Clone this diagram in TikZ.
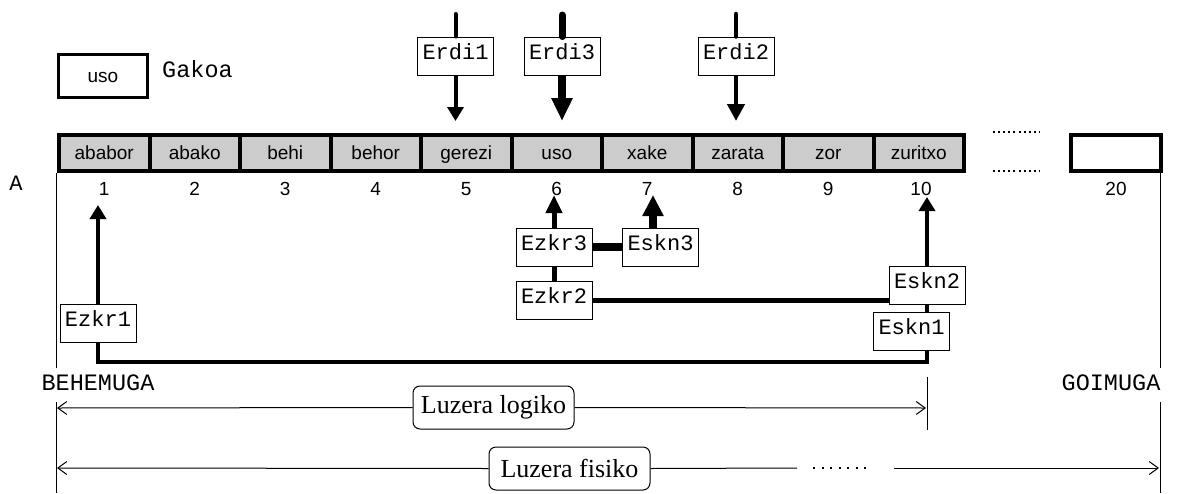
\documentclass[tikz,border=0pt]{standalone}
\usepackage{fontspec}
\setmainfont{Liberation Serif}
\newfontfamily\sansf{Liberation Sans}
\newfontfamily\monof{Liberation Mono}
\usetikzlibrary{arrows.meta}

\begin{document}
\begin{tikzpicture}[x=1pt,y=-1pt,
  cellbox/.style={draw, line width=4pt, fill=black!20, minimum width=90.5pt,
    minimum height=36pt, inner sep=0pt, outer sep=0pt,
    font=\sansf\fontsize{19}{19}\selectfont, text height=12pt, text depth=0pt},
  keybox/.style={cellbox, line width=3.3pt, fill=white, minimum width=89pt, minimum height=43pt},
  idx/.style={anchor=base, inner sep=0pt, font=\sansf\fontsize{19}{19}\selectfont},
  ptr/.style={draw, line width=1pt, fill=white, minimum width=76pt, minimum height=38pt,
    inner sep=0pt, font=\monof\fontsize{22}{22}\selectfont, text height=13pt, text depth=6pt},
  mono/.style={inner sep=0pt, font=\monof\fontsize{22}{22}\selectfont},
  bigmono/.style={inner sep=0pt, font=\monof\fontsize{23.5}{23.5}\selectfont},
  lenbox/.style={draw, line width=1pt, rounded corners=7pt, fill=white, minimum width=161pt,
    minimum height=43pt, inner sep=0pt, font=\fontsize{26}{26}\selectfont},
  thinline/.style={line width=1pt},
  dimarrow/.style={line width=1pt, -{Straight Barb[length=9pt,width=13pt]}},
  ptrA/.style={line width=4pt, -{Triangle[width=16pt,length=14pt]}},
  ptrB/.style={line width=5pt, -{Triangle[width=16pt,length=18pt]}},
  ptrC/.style={line width=8pt, -{Triangle[width=20pt,length=21pt]}},
  dotrow/.style={line width=2.5pt, dash pattern=on 2pt off 3.1pt},
]
\useasboundingbox (0,0) rectangle (1178,493);

% key
\node[keybox] (key) at (103,76) {uso};
\node[bigmono, anchor=base west] (gakoa) at (162,77) {Gakoa};

% array cells and indices
\foreach \i/\w in {1/ababor,2/abako,3/behi,4/behor,5/gerezi,6/uso,7/xake,8/zarata,9/zor,10/zuritxo}{
  \node[cellbox] (c\i) at ({59+90.5*(\i-0.5)},153) {\w};
}
\foreach \i in {1,...,9}{
  \node[idx] (n\i) at ({59+90.5*(\i-0.5)},195) {\i};
}
\node[idx] (n10) at (921,195) {10};
\node[cellbox, fill=white, minimum width=90pt] (c20) at (1116,153) {};
\node[idx] (n20) at (1116,195) {20};
\node[mono, anchor=base] (arrA) at (16,190) {A};

% gap between cell 10 and cell 20
\draw[dotrow] (993,132) -- (1040,132);
\draw[dotrow] (993,171) -- (1040,171);

% middle pointers
\node[ptr] (e1) at (455.5,56) {Erdi1};
\node[ptr] (e3) at (562,56) {Erdi3};
\node[ptr] (e2) at (736,56) {Erdi2};
\coordinate (e1top) at (455.5,14);
\coordinate (e3top) at (562,15);
\coordinate (e2top) at (736,14);
\coordinate (e1tip) at (455.5,121);
\coordinate (e3tip) at (562,121);
\coordinate (e2tip) at (736,121);
\draw[line width=4pt, line cap=round] (e1top) -- (e1);
\draw[line width=7pt, line cap=round] (e3top) -- (e3);
\draw[line width=4.5pt, line cap=round] (e2top) -- (e2);
\draw[line width=4pt, -{Triangle[width=16pt,length=14pt]}] (e1) -- (e1tip);
\draw[line width=8pt, -{Triangle[width=20pt,length=23pt]}] (e3) -- (e3tip);
\draw[line width=4.5pt, -{Triangle[width=17pt,length=17pt]}] (e2) -- (e2tip);

% left and right pointers
\node[ptr] (z1) at (98,323) {Ezkr1};
\node[ptr] (z2) at (554,300) {Ezkr2};
\node[ptr] (z3) at (554,247) {Ezkr3};
\node[ptr] (k1) at (911.5,331) {Eskn1};
\node[ptr] (k2) at (927,285) {Eskn2};
\node[ptr] (k3) at (660.5,247) {Eskn3};

\coordinate (z1tip) at (98,205);
\coordinate (z3tip) at (554,195);
\coordinate (k3tip) at (653,195);
\coordinate (k2tip) at (927,197);
\coordinate (k3foot) at (653,228);
\coordinate (route) at (927,362);

\draw[ptrA] (z1) -- (z1tip);
\draw[line width=4pt] (z1.south) |- (route) -- (route |- k1.south);
\draw[ptrA] (k2) -- (k2tip);
\draw[line width=4pt] (k2.south) -- (k2.south |- k1.north);
\draw[line width=5pt] (z2.east) -- (z2.east -| k2.west);
\draw[line width=5pt] (z3) -- (z2);
\draw[line width=7.5pt] (z3) -- (k3);
\draw[ptrB] (z3) -- (z3tip);
\draw[ptrC] (k3foot) -- (k3tip);

% lower and upper bounds
\node[bigmono, anchor=base] (lo) at (98,390) {BEHEMUGA};
\node[bigmono, anchor=base] (hi) at (1111,390) {GOIMUGA};
\coordinate (loA) at (56,173);
\coordinate (loB) at (56,368);
\coordinate (loC) at (56,402);
\coordinate (loD) at (56,493);
\coordinate (hiA) at (1160,173);
\coordinate (hiB) at (1160,368);
\coordinate (hiC) at (1160,402);
\coordinate (hiD) at (1160,493);
\draw[thinline] (loA) -- (loB);
\draw[thinline] (loC) -- (loD);
\draw[thinline] (hiA) -- (hiB);
\draw[thinline] (hiC) -- (hiD);

% logical length
\node[lenbox] (ll) at (493.5,407.5) {Luzera logiko};
\coordinate (llL) at (57,408);
\coordinate (llR) at (926,408);
\coordinate (barT) at (927,377);
\coordinate (barB) at (927,430);
\draw[dimarrow] (ll.west) -- (llL);
\draw[dimarrow] (ll.east) -- (llR);
\draw[thinline] (barT) -- (barB);

% physical length
\node[lenbox] (lf) at (569.5,468.5) {Luzera fisiko};
\coordinate (lfL) at (57,468);
\coordinate (lfA) at (797,468);
\coordinate (lfB) at (813,468);
\coordinate (lfC) at (872,468);
\coordinate (lfD) at (894,468);
\coordinate (lfR) at (1159,468);
\draw[dimarrow] (lf.west) -- (lfL);
\draw[thinline] (lf.east) -- (lfA);
\draw[line width=2pt, dash pattern=on 2pt off 6.5pt] (lfB) -- (lfC);
\draw[dimarrow] (lfD) -- (lfR);

\end{tikzpicture}
\end{document}
